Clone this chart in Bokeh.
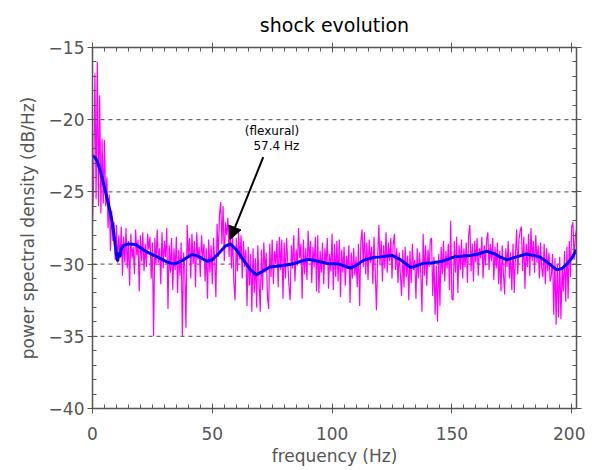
import numpy as np
from bokeh.plotting import figure
from bokeh.models import (LinearAxis, FixedTicker, Range1d, Arrow, NormalHead)
from bokeh.embed import file_html
from bokeh.resources import INLINE

# ---------------- data ----------------
freq_step = 0.5  # Hz
psd_db = [
    -27.2,-24.0,-16.8,-25.5,-16.0,-26.0,-18.3,-26.5,-21.3,-25.8,-21.4,-26.0,-24.0,-27.5,-25.2,-29.1,-26.3,-28.4,-27.1,-29.7,
    -27.3,-29.9,-28.0,-29.6,-27.4,-30.8,-28.1,-29.9,-27.5,-30.3,-28.4,-31.5,-27.9,-29.6,-28.8,-30.7,-27.6,-29.4,-28.3,-31.9,
    -28.0,-29.8,-27.8,-30.5,-28.6,-30.2,-27.9,-29.0,-28.1,-31.0,-28.5,-35.0,-28.2,-30.1,-27.6,-29.9,-28.9,-31.4,-27.8,-30.3,
    -28.4,-29.5,-27.5,-33.1,-28.7,-30.6,-28.2,-31.8,-28.9,-30.4,-28.1,-32.0,-29.0,-30.8,-28.5,-35.0,-29.2,-30.2,-34.4,-27.3,
    -29.5,-28.2,-31.0,-27.9,-30.0,-28.4,-31.6,-27.8,-29.7,-28.8,-30.9,-28.0,-29.5,-28.6,-31.2,-28.9,-32.4,-28.3,-30.6,-28.7,
    -31.4,-28.2,-29.7,-32.3,-27.2,-29.5,-26.6,-25.7,-28.6,-26.0,-29.8,-27.1,-28.0,-26.8,-29.5,-27.5,-30.3,-27.9,-31.3,-32.5,
    -28.2,-30.5,-27.8,-29.7,-28.0,-31.0,-28.4,-30.2,-29.0,-32.9,-28.8,-31.5,-29.3,-33.3,-28.9,-32.0,-29.6,-33.0,-28.7,-31.2,
    -33.3,-29.0,-31.8,-28.5,-30.6,-29.2,-32.2,-33.1,-28.6,-30.9,-28.3,-31.4,-29.1,-30.0,-28.4,-31.6,-28.1,-30.4,-28.3,-32.4,
    -28.5,-31.0,-28.2,-29.9,-31.5,-32.5,-28.7,-30.3,-28.0,-31.2,-29.0,-30.1,-27.5,-29.6,-28.6,-32.4,-28.3,-30.7,-28.9,-31.1,
    -27.7,-29.8,-28.4,-31.3,-28.8,-30.2,-28.1,-31.9,-28.0,-32.0,-29.1,-30.6,-28.5,-31.4,-28.9,-30.0,-28.2,-31.7,-29.3,-30.5,
    -27.9,-31.8,-28.6,-30.9,-28.4,-31.2,-28.3,-32.3,-29.0,-30.6,-28.8,-31.5,-29.4,-30.3,-28.7,-32.7,-29.2,-31.0,-28.9,-30.8,
    -29.5,-31.6,-28.6,-32.9,-28.4,-27.6,-30.2,-27.8,-30.7,-28.5,-31.1,-28.3,-29.9,-28.8,-31.4,-28.1,-30.5,-33.2,-29.6,-27.3,
    -30.1,-28.4,-31.2,-28.7,-30.3,-27.8,-30.6,-28.5,-29.8,-28.2,-31.0,-28.6,-27.9,-30.4,-28.9,-31.3,-29.2,-30.7,-32.2,-29.0,
    -31.6,-28.8,-30.9,-29.4,-32.5,-29.1,-31.3,-28.6,-30.4,-29.7,-32.4,-28.9,-31.0,-29.2,-30.6,-33.3,-27.9,-30.8,-28.7,-31.5,
    -29.0,-30.2,-28.3,-28.2,-32.2,-29.5,-33.5,-30.1,-34.0,-29.3,-32.9,-28.8,-30.7,-28.4,-31.2,-29.1,-30.3,-28.6,-31.8,-27.0,
    -32.4,-32.5,-28.4,-30.6,-28.1,-32.0,-28.7,-30.4,-28.3,-31.0,-28.9,-30.2,-28.5,-31.3,-28.0,-27.3,-30.5,-28.6,-31.2,-28.4,
    -29.9,-28.2,-30.8,-28.9,-29.6,-28.1,-31.0,-28.7,-30.1,-28.3,-27.8,-30.4,-28.6,-29.8,-28.2,-31.1,-28.8,-30.3,-28.5,-31.4,
    -29.1,-31.9,-28.7,-30.6,-32.1,-28.9,-30.2,-28.4,-31.0,-29.2,-31.8,-28.6,-32.0,-29.5,-27.6,-30.7,-28.3,-27.7,-27.4,-30.5,
    -28.1,-31.7,-28.6,-30.2,-27.9,-30.8,-27.5,-29.8,-28.4,-30.6,-28.0,-29.9,-28.7,-31.0,-28.5,-30.3,-30.9,-28.6,-31.4,-28.9,
    -30.5,-29.2,-31.2,-30.8,-29.3,-33.5,-29.6,-34.2,-30.0,-33.7,-29.5,-33.8,-30.2,-31.9,-29.1,-32.6,-28.8,-32.4,-28.4,-30.9,
    -27.4,-27.1,-29.7,-28.1,-27.6,
]
psd_freq = [i * freq_step for i in range(len(psd_db))]

smooth_freq = [0, 1, 2, 3, 4, 5, 6, 7, 8, 9, 10, 10.5, 11, 11.5, 12, 13, 15, 18, 22, 27.6, 31, 34, 37,
               41.5, 44, 47.8, 50, 53, 55.5, 57.5, 60, 63.75, 66, 68.3, 71, 74, 79.6, 83.8, 87, 90,
               94, 97.9, 103, 107.5, 110, 113, 117, 120, 125, 128.3, 133, 138, 142, 146, 151, 157.5,
               161, 164.5, 168, 170, 173, 177, 181, 186.7, 190, 193.7, 196, 198, 200, 202]
smooth_db = [-22.5, -22.6, -22.9, -23.4, -24.0, -24.7, -25.4, -26.1, -26.9, -28.0, -29.4, -29.8, -29.2,
             -29.5, -28.9, -28.7, -28.6, -28.65, -29.1, -29.55, -29.85, -30.0, -29.8, -29.33, -29.45,
             -29.8, -29.7, -29.2, -28.75, -28.6, -29.0, -29.9, -30.4, -30.75, -30.5, -30.2, -30.1,
             -29.98, -29.8, -29.67, -29.8, -29.95, -30.0, -30.27, -30.1, -29.74, -29.55, -29.5, -29.4,
             -29.67, -30.25, -29.95, -29.9, -29.8, -29.5, -29.4, -29.3, -29.1, -29.3, -29.5, -29.7,
             -29.5, -29.3, -29.5, -29.9, -30.4, -30.3, -30.0, -29.6, -29.0]

x_ticks = [0, 50, 100, 150, 200]
y_ticks = [-40, -35, -30, -25, -20, -15]
grid_levels = [-35, -30, -25, -20]

title_text = "shock evolution"
peak_freq = 57.4
peak_db = -28.3
note_tail = (71.25, -22.6)
note_text_pos = (86.3, -20.8)
note_lines = ["(flexural)", "57.4 Hz"]

# ---------------- figure ----------------
FONT = "DejaVu Sans"
AX_COL = "#555555"
X_MAX = 202

p = figure(width=585, height=468, output_backend="svg", toolbar_location=None,
           x_range=Range1d(0, X_MAX), y_range=Range1d(-40, -15),
           min_border_left=92, min_border_right=9, min_border_top=47, min_border_bottom=58,
           title=title_text)
p.title.align = "center"
p.title.vertical_align = "top"
p.title.text_font = FONT
p.title.text_font_size = "19px"
p.title.text_font_style = "normal"
p.title.text_color = "black"
p.outline_line_color = None
p.xgrid.visible = False
p.ygrid.visible = False

def style_axis(ax, show_labels=True):
    ax.axis_line_color = AX_COL
    ax.axis_line_width = 1.5
    ax.major_tick_line_color = AX_COL
    ax.minor_tick_line_color = AX_COL
    ax.major_tick_in = 5
    ax.major_tick_out = 5
    ax.minor_tick_in = 4
    ax.minor_tick_out = 0
    ax.major_label_text_font = FONT
    ax.major_label_text_font_size = "17px"
    ax.major_label_text_color = AX_COL
    ax.axis_label_text_font = FONT
    ax.axis_label_text_font_size = "17px"
    ax.axis_label_text_color = AX_COL
    ax.axis_label_text_font_style = "normal"
    if not show_labels:
        ax.major_label_text_font_size = "0px"
        ax.major_label_text_color = None

xt = FixedTicker(ticks=x_ticks, minor_ticks=list(range(0, 205, 5)))
yt = FixedTicker(ticks=y_ticks, minor_ticks=list(range(-40, -14, 1)))

p.xaxis.ticker = xt
p.yaxis.ticker = yt
p.xaxis.axis_label = "frequency (Hz)"
p.yaxis.axis_label = "power spectral density (dB/Hz)"
style_axis(p.xaxis[0])
style_axis(p.yaxis[0])
p.xaxis.major_label_standoff = 13
p.yaxis.major_label_standoff = 3
p.xaxis.axis_label_standoff = 3
p.yaxis.axis_label_standoff = 8

top = LinearAxis(ticker=xt)
right = LinearAxis(ticker=yt)
style_axis(top, False)
style_axis(right, False)
top.major_label_standoff = 0
right.major_label_standoff = 0
p.add_layout(top, "above")
p.add_layout(right, "right")

# dashed horizontal grid lines
for lv in grid_levels:
    p.line([0, X_MAX], [lv, lv], line_color="#444444", line_dash="4 4", line_width=1)

p.line(psd_freq, psd_db, line_color="#ff00ff", line_width=1.2)
p.line(smooth_freq, smooth_db, line_color="#0000ff", line_width=3)

p.add_layout(Arrow(end=NormalHead(size=13, fill_color="black", line_color="black"),
                   x_start=note_tail[0], y_start=note_tail[1],
                   x_end=peak_freq, y_end=peak_db,
                   line_color="black", line_width=2))
p.text(x=[note_text_pos[0], note_text_pos[0]], y=[note_text_pos[1], note_text_pos[1] - 1.03],
       text=note_lines, text_align="right", text_baseline="middle",
       text_font_size="12px", text_color="black", text_font={"value": FONT})

open("out.html", "w").write(file_html(p, INLINE))
